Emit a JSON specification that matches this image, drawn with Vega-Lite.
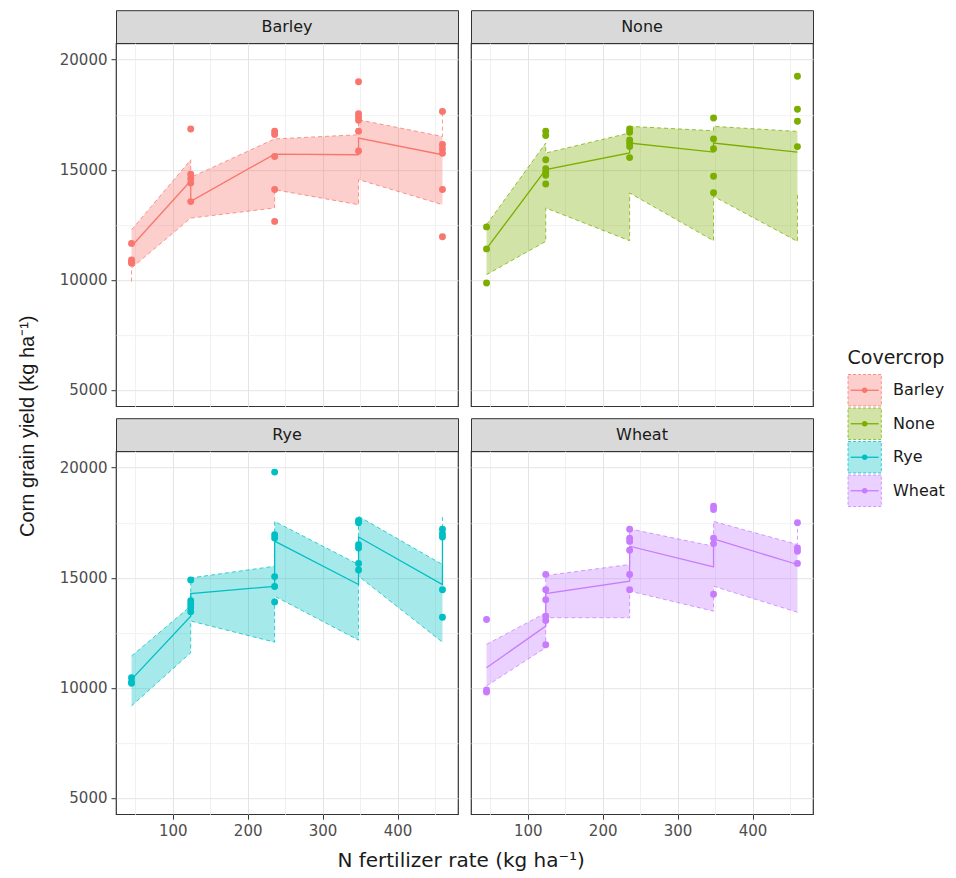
{
  "$schema": "https://vega.github.io/schema/vega-lite/v6.json",
  "background": "white",
  "padding": {"left": 17, "top": 9, "right": 4, "bottom": 4},
  "config": {
    "font": "DejaVu Sans",
    "legend": {"disable": true}
  },
  "datasets": {
    "fit": [
      {"Covercrop": "Barley", "N": 45, "lo": 9920, "hi": 12270, "pred": 11520},
      {"Covercrop": "Barley", "N": 45, "lo": 10530, "hi": 12270, "pred": 11520},
      {"Covercrop": "Barley", "N": 124, "lo": 12800, "hi": 15450, "pred": 14500},
      {"Covercrop": "Barley", "N": 124, "lo": 12800, "hi": 14650, "pred": 13560},
      {"Covercrop": "Barley", "N": 236, "lo": 13260, "hi": 16400, "pred": 15710},
      {"Covercrop": "Barley", "N": 236, "lo": 14090, "hi": 16400, "pred": 15710},
      {"Covercrop": "Barley", "N": 348, "lo": 13410, "hi": 16590, "pred": 15680},
      {"Covercrop": "Barley", "N": 348, "lo": 14550, "hi": 17270, "pred": 16440},
      {"Covercrop": "Barley", "N": 460, "lo": 13410, "hi": 16510, "pred": 15680},
      {"Covercrop": "Barley", "N": 460, "lo": 13410, "hi": 17650, "pred": 15680},
      {"Covercrop": "None", "N": 45, "lo": 10230, "hi": 12500, "pred": 11410},
      {"Covercrop": "None", "N": 124, "lo": 11740, "hi": 16210, "pred": 15000},
      {"Covercrop": "None", "N": 124, "lo": 13260, "hi": 15760, "pred": 15000},
      {"Covercrop": "None", "N": 236, "lo": 11770, "hi": 16670, "pred": 15760},
      {"Covercrop": "None", "N": 236, "lo": 13940, "hi": 16970, "pred": 16210},
      {"Covercrop": "None", "N": 348, "lo": 11770, "hi": 16770, "pred": 15800},
      {"Covercrop": "None", "N": 348, "lo": 13790, "hi": 16970, "pred": 16210},
      {"Covercrop": "None", "N": 460, "lo": 11740, "hi": 16740, "pred": 15800},
      {"Covercrop": "None", "N": 460, "lo": 13940, "hi": 16740, "pred": 15800},
      {"Covercrop": "Rye", "N": 45, "lo": 9170, "hi": 11440, "pred": 10380},
      {"Covercrop": "Rye", "N": 124, "lo": 11590, "hi": 13710, "pred": 13250},
      {"Covercrop": "Rye", "N": 124, "lo": 13030, "hi": 14990, "pred": 14280},
      {"Covercrop": "Rye", "N": 236, "lo": 12070, "hi": 15520, "pred": 14610},
      {"Covercrop": "Rye", "N": 236, "lo": 14160, "hi": 17560, "pred": 16660},
      {"Covercrop": "Rye", "N": 348, "lo": 12160, "hi": 15600, "pred": 14690},
      {"Covercrop": "Rye", "N": 348, "lo": 15070, "hi": 17790, "pred": 16850},
      {"Covercrop": "Rye", "N": 460, "lo": 12070, "hi": 15600, "pred": 14690},
      {"Covercrop": "Rye", "N": 460, "lo": 12070, "hi": 17870, "pred": 17190},
      {"Covercrop": "Wheat", "N": 45, "lo": 10080, "hi": 11970, "pred": 10910},
      {"Covercrop": "Wheat", "N": 124, "lo": 11820, "hi": 13400, "pred": 12800},
      {"Covercrop": "Wheat", "N": 124, "lo": 13180, "hi": 15100, "pred": 14280},
      {"Covercrop": "Wheat", "N": 236, "lo": 13180, "hi": 15600, "pred": 14840},
      {"Covercrop": "Wheat", "N": 236, "lo": 14390, "hi": 17220, "pred": 16430},
      {"Covercrop": "Wheat", "N": 348, "lo": 13480, "hi": 16430, "pred": 15490},
      {"Covercrop": "Wheat", "N": 348, "lo": 14610, "hi": 17560, "pred": 16760},
      {"Covercrop": "Wheat", "N": 460, "lo": 13430, "hi": 16510, "pred": 15600},
      {"Covercrop": "Wheat", "N": 460, "lo": 13430, "hi": 17520, "pred": 15600}
    ],
    "obs": [
      {"Covercrop": "Barley", "N": 45, "yield": 11650},
      {"Covercrop": "Barley", "N": 45, "yield": 10900},
      {"Covercrop": "Barley", "N": 45, "yield": 10800},
      {"Covercrop": "Barley", "N": 45, "yield": 10750},
      {"Covercrop": "Barley", "N": 124, "yield": 16850},
      {"Covercrop": "Barley", "N": 124, "yield": 14800},
      {"Covercrop": "Barley", "N": 124, "yield": 14600},
      {"Covercrop": "Barley", "N": 124, "yield": 14400},
      {"Covercrop": "Barley", "N": 124, "yield": 13550},
      {"Covercrop": "Barley", "N": 236, "yield": 16750},
      {"Covercrop": "Barley", "N": 236, "yield": 16600},
      {"Covercrop": "Barley", "N": 236, "yield": 15600},
      {"Covercrop": "Barley", "N": 236, "yield": 14100},
      {"Covercrop": "Barley", "N": 236, "yield": 12650},
      {"Covercrop": "Barley", "N": 348, "yield": 19000},
      {"Covercrop": "Barley", "N": 348, "yield": 17550},
      {"Covercrop": "Barley", "N": 348, "yield": 17400},
      {"Covercrop": "Barley", "N": 348, "yield": 17250},
      {"Covercrop": "Barley", "N": 348, "yield": 16750},
      {"Covercrop": "Barley", "N": 348, "yield": 15850},
      {"Covercrop": "Barley", "N": 460, "yield": 17650},
      {"Covercrop": "Barley", "N": 460, "yield": 16150},
      {"Covercrop": "Barley", "N": 460, "yield": 15950},
      {"Covercrop": "Barley", "N": 460, "yield": 15750},
      {"Covercrop": "Barley", "N": 460, "yield": 14100},
      {"Covercrop": "Barley", "N": 460, "yield": 11950},
      {"Covercrop": "None", "N": 45, "yield": 12400},
      {"Covercrop": "None", "N": 45, "yield": 11400},
      {"Covercrop": "None", "N": 45, "yield": 9850},
      {"Covercrop": "None", "N": 124, "yield": 16750},
      {"Covercrop": "None", "N": 124, "yield": 16550},
      {"Covercrop": "None", "N": 124, "yield": 15450},
      {"Covercrop": "None", "N": 124, "yield": 15050},
      {"Covercrop": "None", "N": 124, "yield": 14900},
      {"Covercrop": "None", "N": 124, "yield": 14750},
      {"Covercrop": "None", "N": 124, "yield": 14350},
      {"Covercrop": "None", "N": 236, "yield": 16850},
      {"Covercrop": "None", "N": 236, "yield": 16700},
      {"Covercrop": "None", "N": 236, "yield": 16350},
      {"Covercrop": "None", "N": 236, "yield": 16200},
      {"Covercrop": "None", "N": 236, "yield": 16050},
      {"Covercrop": "None", "N": 236, "yield": 15550},
      {"Covercrop": "None", "N": 348, "yield": 17350},
      {"Covercrop": "None", "N": 348, "yield": 16400},
      {"Covercrop": "None", "N": 348, "yield": 15950},
      {"Covercrop": "None", "N": 348, "yield": 14700},
      {"Covercrop": "None", "N": 348, "yield": 13950},
      {"Covercrop": "None", "N": 460, "yield": 19250},
      {"Covercrop": "None", "N": 460, "yield": 17750},
      {"Covercrop": "None", "N": 460, "yield": 17200},
      {"Covercrop": "None", "N": 460, "yield": 16050},
      {"Covercrop": "Rye", "N": 45, "yield": 10450},
      {"Covercrop": "Rye", "N": 45, "yield": 10250},
      {"Covercrop": "Rye", "N": 45, "yield": 10200},
      {"Covercrop": "Rye", "N": 124, "yield": 14900},
      {"Covercrop": "Rye", "N": 124, "yield": 13950},
      {"Covercrop": "Rye", "N": 124, "yield": 13800},
      {"Covercrop": "Rye", "N": 124, "yield": 13650},
      {"Covercrop": "Rye", "N": 124, "yield": 13450},
      {"Covercrop": "Rye", "N": 236, "yield": 19800},
      {"Covercrop": "Rye", "N": 236, "yield": 16950},
      {"Covercrop": "Rye", "N": 236, "yield": 16800},
      {"Covercrop": "Rye", "N": 236, "yield": 15050},
      {"Covercrop": "Rye", "N": 236, "yield": 14600},
      {"Covercrop": "Rye", "N": 236, "yield": 13900},
      {"Covercrop": "Rye", "N": 348, "yield": 17600},
      {"Covercrop": "Rye", "N": 348, "yield": 17500},
      {"Covercrop": "Rye", "N": 348, "yield": 16500},
      {"Covercrop": "Rye", "N": 348, "yield": 16350},
      {"Covercrop": "Rye", "N": 348, "yield": 15650},
      {"Covercrop": "Rye", "N": 348, "yield": 15350},
      {"Covercrop": "Rye", "N": 460, "yield": 17200},
      {"Covercrop": "Rye", "N": 460, "yield": 17000},
      {"Covercrop": "Rye", "N": 460, "yield": 16850},
      {"Covercrop": "Rye", "N": 460, "yield": 14450},
      {"Covercrop": "Rye", "N": 460, "yield": 13200},
      {"Covercrop": "Wheat", "N": 45, "yield": 13100},
      {"Covercrop": "Wheat", "N": 45, "yield": 9900},
      {"Covercrop": "Wheat", "N": 45, "yield": 9800},
      {"Covercrop": "Wheat", "N": 124, "yield": 15150},
      {"Covercrop": "Wheat", "N": 124, "yield": 14450},
      {"Covercrop": "Wheat", "N": 124, "yield": 14000},
      {"Covercrop": "Wheat", "N": 124, "yield": 13250},
      {"Covercrop": "Wheat", "N": 124, "yield": 13050},
      {"Covercrop": "Wheat", "N": 124, "yield": 11950},
      {"Covercrop": "Wheat", "N": 236, "yield": 17200},
      {"Covercrop": "Wheat", "N": 236, "yield": 16800},
      {"Covercrop": "Wheat", "N": 236, "yield": 16650},
      {"Covercrop": "Wheat", "N": 236, "yield": 16250},
      {"Covercrop": "Wheat", "N": 236, "yield": 15150},
      {"Covercrop": "Wheat", "N": 236, "yield": 14450},
      {"Covercrop": "Wheat", "N": 348, "yield": 18250},
      {"Covercrop": "Wheat", "N": 348, "yield": 18100},
      {"Covercrop": "Wheat", "N": 348, "yield": 16800},
      {"Covercrop": "Wheat", "N": 348, "yield": 16550},
      {"Covercrop": "Wheat", "N": 348, "yield": 14250},
      {"Covercrop": "Wheat", "N": 460, "yield": 17500},
      {"Covercrop": "Wheat", "N": 460, "yield": 16350},
      {"Covercrop": "Wheat", "N": 460, "yield": 16200},
      {"Covercrop": "Wheat", "N": 460, "yield": 15650}
    ],
    "crops": [
      {"Covercrop": "Barley"},
      {"Covercrop": "None"},
      {"Covercrop": "Rye"},
      {"Covercrop": "Wheat"}
    ]
  },
  "hconcat": [
    {
      "title": {"text": "Corn grain yield  (kg ha⁻¹)", "orient": "left", "anchor": "middle", "font": "Liberation Sans", "fontSize": 20, "fontWeight": "normal", "color": "#1a1a1a", "offset": 14, "dy": -7, "dx": 14},
      "hconcat": [
        {
          "title": {"text": "N fertilizer rate  (kg ha⁻¹)", "orient": "bottom", "anchor": "middle", "font": "DejaVu Sans", "fontSize": 20, "fontWeight": "normal", "color": "#1a1a1a", "offset": 12, "dx": 25},
          "spacing": 10,
          "vconcat": [
            {
              "spacing": 11,
              "hconcat": [
                {
                  "spacing": 0,
                  "bounds": "flush",
                  "vconcat": [
                    {"width": 342, "height": 33, "view": {"fill": "#d9d9d9", "stroke": "#333333", "strokeWidth": 1}, "data": {"values": [{"Covercrop": "Barley"}]}, "mark": {"type": "text", "fontSize": 16, "color": "#1a1a1a"}, "encoding": {"text": {"field": "Covercrop"}}},
                    {
                      "width": 342, "height": 363,
                      "view": {"stroke": "#333333", "strokeWidth": 1.2},
                      "encoding": {"x": {"field": "N", "type": "quantitative", "scale": {"domain": [24.25, 480.75], "nice": false, "zero": false}, "axis": {"values": [50, 100, 150, 200, 250, 300, 350, 400, 450], "labels": false, "ticks": false, "domain": false, "title": null, "gridColor": {"condition": {"test": "datum.value % 100 === 0", "value": "#e4e4e4"}, "value": "#f1f1f1"}, "gridWidth": 1}}},
                      "layer": [
                        {"data": {"name": "fit"}, "transform": [{"filter": {"field": "Covercrop", "equal": "Barley"}}], "mark": {"type": "area", "fillOpacity": 0.35}, "encoding": {"y": {"field": "hi", "type": "quantitative", "scale": {"domain": [4250, 20750], "nice": false, "zero": false}, "axis": {"values": [5000, 7500, 10000, 12500, 15000, 17500, 20000], "format": "d", "labelExpr": "datum.value % 5000 === 0 ? datum.label : ''", "title": null, "domain": false, "gridColor": {"condition": {"test": "datum.value % 5000 === 0", "value": "#e4e4e4"}, "value": "#f1f1f1"}, "tickOpacity": {"condition": {"test": "datum.value % 5000 === 0", "value": 1}, "value": 0}, "tickColor": "#333333", "tickSize": 5, "labelFontSize": 15, "labelColor": "#4d4d4d", "labelPadding": 4, "labelOverlap": false, "labelFlush": false}}, "y2": {"field": "lo"}, "fill": {"field": "Covercrop", "type": "nominal", "scale": {"domain": ["Barley", "None", "Rye", "Wheat"], "range": ["#F8766D", "#7CAE00", "#00BFC4", "#C77CFF"]}, "legend": null}}},
                        {"data": {"name": "fit"}, "transform": [{"filter": {"field": "Covercrop", "equal": "Barley"}}], "mark": {"type": "line", "strokeDash": [4, 3], "strokeWidth": 1, "opacity": 0.75}, "encoding": {"y": {"field": "hi", "type": "quantitative", "scale": {"domain": [4250, 20750], "nice": false, "zero": false}, "axis": {"values": [5000, 7500, 10000, 12500, 15000, 17500, 20000], "format": "d", "labelExpr": "datum.value % 5000 === 0 ? datum.label : ''", "title": null, "domain": false, "gridColor": {"condition": {"test": "datum.value % 5000 === 0", "value": "#e4e4e4"}, "value": "#f1f1f1"}, "tickOpacity": {"condition": {"test": "datum.value % 5000 === 0", "value": 1}, "value": 0}, "tickColor": "#333333", "tickSize": 5, "labelFontSize": 15, "labelColor": "#4d4d4d", "labelPadding": 4, "labelOverlap": false, "labelFlush": false}}, "color": {"field": "Covercrop", "type": "nominal", "scale": {"domain": ["Barley", "None", "Rye", "Wheat"], "range": ["#F8766D", "#7CAE00", "#00BFC4", "#C77CFF"]}, "legend": null}}},
                        {"data": {"name": "fit"}, "transform": [{"filter": {"field": "Covercrop", "equal": "Barley"}}], "mark": {"type": "line", "strokeDash": [4, 3], "strokeWidth": 1, "opacity": 0.75}, "encoding": {"y": {"field": "lo", "type": "quantitative", "scale": {"domain": [4250, 20750], "nice": false, "zero": false}, "axis": {"values": [5000, 7500, 10000, 12500, 15000, 17500, 20000], "format": "d", "labelExpr": "datum.value % 5000 === 0 ? datum.label : ''", "title": null, "domain": false, "gridColor": {"condition": {"test": "datum.value % 5000 === 0", "value": "#e4e4e4"}, "value": "#f1f1f1"}, "tickOpacity": {"condition": {"test": "datum.value % 5000 === 0", "value": 1}, "value": 0}, "tickColor": "#333333", "tickSize": 5, "labelFontSize": 15, "labelColor": "#4d4d4d", "labelPadding": 4, "labelOverlap": false, "labelFlush": false}}, "color": {"field": "Covercrop", "type": "nominal", "legend": null}}},
                        {"data": {"name": "fit"}, "transform": [{"filter": {"field": "Covercrop", "equal": "Barley"}}], "mark": {"type": "line", "strokeWidth": 1.3}, "encoding": {"y": {"field": "pred", "type": "quantitative", "scale": {"domain": [4250, 20750], "nice": false, "zero": false}, "axis": {"values": [5000, 7500, 10000, 12500, 15000, 17500, 20000], "format": "d", "labelExpr": "datum.value % 5000 === 0 ? datum.label : ''", "title": null, "domain": false, "gridColor": {"condition": {"test": "datum.value % 5000 === 0", "value": "#e4e4e4"}, "value": "#f1f1f1"}, "tickOpacity": {"condition": {"test": "datum.value % 5000 === 0", "value": 1}, "value": 0}, "tickColor": "#333333", "tickSize": 5, "labelFontSize": 15, "labelColor": "#4d4d4d", "labelPadding": 4, "labelOverlap": false, "labelFlush": false}}, "color": {"field": "Covercrop", "type": "nominal", "legend": null}}},
                        {"data": {"name": "obs"}, "transform": [{"filter": {"field": "Covercrop", "equal": "Barley"}}], "mark": {"type": "circle", "size": 48, "opacity": 1}, "encoding": {"y": {"field": "yield", "type": "quantitative", "scale": {"domain": [4250, 20750], "nice": false, "zero": false}, "axis": {"values": [5000, 7500, 10000, 12500, 15000, 17500, 20000], "format": "d", "labelExpr": "datum.value % 5000 === 0 ? datum.label : ''", "title": null, "domain": false, "gridColor": {"condition": {"test": "datum.value % 5000 === 0", "value": "#e4e4e4"}, "value": "#f1f1f1"}, "tickOpacity": {"condition": {"test": "datum.value % 5000 === 0", "value": 1}, "value": 0}, "tickColor": "#333333", "tickSize": 5, "labelFontSize": 15, "labelColor": "#4d4d4d", "labelPadding": 4, "labelOverlap": false, "labelFlush": false}}, "color": {"field": "Covercrop", "type": "nominal", "legend": null}}}
                      ]
                    }
                  ]
                },
                {
                  "spacing": 0,
                  "bounds": "flush",
                  "vconcat": [
                    {"width": 342, "height": 33, "view": {"fill": "#d9d9d9", "stroke": "#333333", "strokeWidth": 1}, "data": {"values": [{"Covercrop": "None"}]}, "mark": {"type": "text", "fontSize": 16, "color": "#1a1a1a"}, "encoding": {"text": {"field": "Covercrop"}}},
                    {
                      "width": 342, "height": 363,
                      "view": {"stroke": "#333333", "strokeWidth": 1.2},
                      "encoding": {"x": {"field": "N", "type": "quantitative", "scale": {"domain": [24.25, 480.75], "nice": false, "zero": false}, "axis": {"values": [50, 100, 150, 200, 250, 300, 350, 400, 450], "labels": false, "ticks": false, "domain": false, "title": null, "gridColor": {"condition": {"test": "datum.value % 100 === 0", "value": "#e4e4e4"}, "value": "#f1f1f1"}, "gridWidth": 1}}},
                      "layer": [
                        {"data": {"name": "fit"}, "transform": [{"filter": {"field": "Covercrop", "equal": "None"}}], "mark": {"type": "area", "fillOpacity": 0.35}, "encoding": {"y": {"field": "hi", "type": "quantitative", "scale": {"domain": [4250, 20750], "nice": false, "zero": false}, "axis": {"values": [5000, 7500, 10000, 12500, 15000, 17500, 20000], "labels": false, "ticks": false, "title": null, "domain": false, "gridColor": {"condition": {"test": "datum.value % 5000 === 0", "value": "#e4e4e4"}, "value": "#f1f1f1"}}}, "y2": {"field": "lo"}, "fill": {"field": "Covercrop", "type": "nominal", "scale": {"domain": ["Barley", "None", "Rye", "Wheat"], "range": ["#F8766D", "#7CAE00", "#00BFC4", "#C77CFF"]}, "legend": null}}},
                        {"data": {"name": "fit"}, "transform": [{"filter": {"field": "Covercrop", "equal": "None"}}], "mark": {"type": "line", "strokeDash": [4, 3], "strokeWidth": 1, "opacity": 0.75}, "encoding": {"y": {"field": "hi", "type": "quantitative", "scale": {"domain": [4250, 20750], "nice": false, "zero": false}, "axis": {"values": [5000, 7500, 10000, 12500, 15000, 17500, 20000], "labels": false, "ticks": false, "title": null, "domain": false, "gridColor": {"condition": {"test": "datum.value % 5000 === 0", "value": "#e4e4e4"}, "value": "#f1f1f1"}}}, "color": {"field": "Covercrop", "type": "nominal", "scale": {"domain": ["Barley", "None", "Rye", "Wheat"], "range": ["#F8766D", "#7CAE00", "#00BFC4", "#C77CFF"]}, "legend": null}}},
                        {"data": {"name": "fit"}, "transform": [{"filter": {"field": "Covercrop", "equal": "None"}}], "mark": {"type": "line", "strokeDash": [4, 3], "strokeWidth": 1, "opacity": 0.75}, "encoding": {"y": {"field": "lo", "type": "quantitative", "scale": {"domain": [4250, 20750], "nice": false, "zero": false}, "axis": {"values": [5000, 7500, 10000, 12500, 15000, 17500, 20000], "labels": false, "ticks": false, "title": null, "domain": false, "gridColor": {"condition": {"test": "datum.value % 5000 === 0", "value": "#e4e4e4"}, "value": "#f1f1f1"}}}, "color": {"field": "Covercrop", "type": "nominal", "legend": null}}},
                        {"data": {"name": "fit"}, "transform": [{"filter": {"field": "Covercrop", "equal": "None"}}], "mark": {"type": "line", "strokeWidth": 1.3}, "encoding": {"y": {"field": "pred", "type": "quantitative", "scale": {"domain": [4250, 20750], "nice": false, "zero": false}, "axis": {"values": [5000, 7500, 10000, 12500, 15000, 17500, 20000], "labels": false, "ticks": false, "title": null, "domain": false, "gridColor": {"condition": {"test": "datum.value % 5000 === 0", "value": "#e4e4e4"}, "value": "#f1f1f1"}}}, "color": {"field": "Covercrop", "type": "nominal", "legend": null}}},
                        {"data": {"name": "obs"}, "transform": [{"filter": {"field": "Covercrop", "equal": "None"}}], "mark": {"type": "circle", "size": 48, "opacity": 1}, "encoding": {"y": {"field": "yield", "type": "quantitative", "scale": {"domain": [4250, 20750], "nice": false, "zero": false}, "axis": {"values": [5000, 7500, 10000, 12500, 15000, 17500, 20000], "labels": false, "ticks": false, "title": null, "domain": false, "gridColor": {"condition": {"test": "datum.value % 5000 === 0", "value": "#e4e4e4"}, "value": "#f1f1f1"}}}, "color": {"field": "Covercrop", "type": "nominal", "legend": null}}}
                      ]
                    }
                  ]
                }
              ]
            },
            {
              "spacing": 11,
              "hconcat": [
                {
                  "spacing": 0,
                  "bounds": "flush",
                  "vconcat": [
                    {"width": 342, "height": 33, "view": {"fill": "#d9d9d9", "stroke": "#333333", "strokeWidth": 1}, "data": {"values": [{"Covercrop": "Rye"}]}, "mark": {"type": "text", "fontSize": 16, "color": "#1a1a1a"}, "encoding": {"text": {"field": "Covercrop"}}},
                    {
                      "width": 342, "height": 363,
                      "view": {"stroke": "#333333", "strokeWidth": 1.2},
                      "encoding": {"x": {"field": "N", "type": "quantitative", "scale": {"domain": [24.25, 480.75], "nice": false, "zero": false}, "axis": {"values": [50, 100, 150, 200, 250, 300, 350, 400, 450], "labelExpr": "datum.value % 100 === 0 ? datum.label : ''", "domain": false, "title": null, "gridColor": {"condition": {"test": "datum.value % 100 === 0", "value": "#e4e4e4"}, "value": "#f1f1f1"}, "gridWidth": 1, "tickOpacity": {"condition": {"test": "datum.value % 100 === 0", "value": 1}, "value": 0}, "tickColor": "#333333", "tickSize": 5, "labelFontSize": 15, "labelColor": "#4d4d4d", "labelPadding": 4, "labelOverlap": false, "labelFlush": false}}},
                      "layer": [
                        {"data": {"name": "fit"}, "transform": [{"filter": {"field": "Covercrop", "equal": "Rye"}}], "mark": {"type": "area", "fillOpacity": 0.35}, "encoding": {"y": {"field": "hi", "type": "quantitative", "scale": {"domain": [4250, 20750], "nice": false, "zero": false}, "axis": {"values": [5000, 7500, 10000, 12500, 15000, 17500, 20000], "format": "d", "labelExpr": "datum.value % 5000 === 0 ? datum.label : ''", "title": null, "domain": false, "gridColor": {"condition": {"test": "datum.value % 5000 === 0", "value": "#e4e4e4"}, "value": "#f1f1f1"}, "tickOpacity": {"condition": {"test": "datum.value % 5000 === 0", "value": 1}, "value": 0}, "tickColor": "#333333", "tickSize": 5, "labelFontSize": 15, "labelColor": "#4d4d4d", "labelPadding": 4, "labelOverlap": false, "labelFlush": false}}, "y2": {"field": "lo"}, "fill": {"field": "Covercrop", "type": "nominal", "scale": {"domain": ["Barley", "None", "Rye", "Wheat"], "range": ["#F8766D", "#7CAE00", "#00BFC4", "#C77CFF"]}, "legend": null}}},
                        {"data": {"name": "fit"}, "transform": [{"filter": {"field": "Covercrop", "equal": "Rye"}}], "mark": {"type": "line", "strokeDash": [4, 3], "strokeWidth": 1, "opacity": 0.75}, "encoding": {"y": {"field": "hi", "type": "quantitative", "scale": {"domain": [4250, 20750], "nice": false, "zero": false}, "axis": {"values": [5000, 7500, 10000, 12500, 15000, 17500, 20000], "format": "d", "labelExpr": "datum.value % 5000 === 0 ? datum.label : ''", "title": null, "domain": false, "gridColor": {"condition": {"test": "datum.value % 5000 === 0", "value": "#e4e4e4"}, "value": "#f1f1f1"}, "tickOpacity": {"condition": {"test": "datum.value % 5000 === 0", "value": 1}, "value": 0}, "tickColor": "#333333", "tickSize": 5, "labelFontSize": 15, "labelColor": "#4d4d4d", "labelPadding": 4, "labelOverlap": false, "labelFlush": false}}, "color": {"field": "Covercrop", "type": "nominal", "scale": {"domain": ["Barley", "None", "Rye", "Wheat"], "range": ["#F8766D", "#7CAE00", "#00BFC4", "#C77CFF"]}, "legend": null}}},
                        {"data": {"name": "fit"}, "transform": [{"filter": {"field": "Covercrop", "equal": "Rye"}}], "mark": {"type": "line", "strokeDash": [4, 3], "strokeWidth": 1, "opacity": 0.75}, "encoding": {"y": {"field": "lo", "type": "quantitative", "scale": {"domain": [4250, 20750], "nice": false, "zero": false}, "axis": {"values": [5000, 7500, 10000, 12500, 15000, 17500, 20000], "format": "d", "labelExpr": "datum.value % 5000 === 0 ? datum.label : ''", "title": null, "domain": false, "gridColor": {"condition": {"test": "datum.value % 5000 === 0", "value": "#e4e4e4"}, "value": "#f1f1f1"}, "tickOpacity": {"condition": {"test": "datum.value % 5000 === 0", "value": 1}, "value": 0}, "tickColor": "#333333", "tickSize": 5, "labelFontSize": 15, "labelColor": "#4d4d4d", "labelPadding": 4, "labelOverlap": false, "labelFlush": false}}, "color": {"field": "Covercrop", "type": "nominal", "legend": null}}},
                        {"data": {"name": "fit"}, "transform": [{"filter": {"field": "Covercrop", "equal": "Rye"}}], "mark": {"type": "line", "strokeWidth": 1.3}, "encoding": {"y": {"field": "pred", "type": "quantitative", "scale": {"domain": [4250, 20750], "nice": false, "zero": false}, "axis": {"values": [5000, 7500, 10000, 12500, 15000, 17500, 20000], "format": "d", "labelExpr": "datum.value % 5000 === 0 ? datum.label : ''", "title": null, "domain": false, "gridColor": {"condition": {"test": "datum.value % 5000 === 0", "value": "#e4e4e4"}, "value": "#f1f1f1"}, "tickOpacity": {"condition": {"test": "datum.value % 5000 === 0", "value": 1}, "value": 0}, "tickColor": "#333333", "tickSize": 5, "labelFontSize": 15, "labelColor": "#4d4d4d", "labelPadding": 4, "labelOverlap": false, "labelFlush": false}}, "color": {"field": "Covercrop", "type": "nominal", "legend": null}}},
                        {"data": {"name": "obs"}, "transform": [{"filter": {"field": "Covercrop", "equal": "Rye"}}], "mark": {"type": "circle", "size": 48, "opacity": 1}, "encoding": {"y": {"field": "yield", "type": "quantitative", "scale": {"domain": [4250, 20750], "nice": false, "zero": false}, "axis": {"values": [5000, 7500, 10000, 12500, 15000, 17500, 20000], "format": "d", "labelExpr": "datum.value % 5000 === 0 ? datum.label : ''", "title": null, "domain": false, "gridColor": {"condition": {"test": "datum.value % 5000 === 0", "value": "#e4e4e4"}, "value": "#f1f1f1"}, "tickOpacity": {"condition": {"test": "datum.value % 5000 === 0", "value": 1}, "value": 0}, "tickColor": "#333333", "tickSize": 5, "labelFontSize": 15, "labelColor": "#4d4d4d", "labelPadding": 4, "labelOverlap": false, "labelFlush": false}}, "color": {"field": "Covercrop", "type": "nominal", "legend": null}}}
                      ]
                    }
                  ]
                },
                {
                  "spacing": 0,
                  "bounds": "flush",
                  "vconcat": [
                    {"width": 342, "height": 33, "view": {"fill": "#d9d9d9", "stroke": "#333333", "strokeWidth": 1}, "data": {"values": [{"Covercrop": "Wheat"}]}, "mark": {"type": "text", "fontSize": 16, "color": "#1a1a1a"}, "encoding": {"text": {"field": "Covercrop"}}},
                    {
                      "width": 342, "height": 363,
                      "view": {"stroke": "#333333", "strokeWidth": 1.2},
                      "encoding": {"x": {"field": "N", "type": "quantitative", "scale": {"domain": [24.25, 480.75], "nice": false, "zero": false}, "axis": {"values": [50, 100, 150, 200, 250, 300, 350, 400, 450], "labelExpr": "datum.value % 100 === 0 ? datum.label : ''", "domain": false, "title": null, "gridColor": {"condition": {"test": "datum.value % 100 === 0", "value": "#e4e4e4"}, "value": "#f1f1f1"}, "gridWidth": 1, "tickOpacity": {"condition": {"test": "datum.value % 100 === 0", "value": 1}, "value": 0}, "tickColor": "#333333", "tickSize": 5, "labelFontSize": 15, "labelColor": "#4d4d4d", "labelPadding": 4, "labelOverlap": false, "labelFlush": false}}},
                      "layer": [
                        {"data": {"name": "fit"}, "transform": [{"filter": {"field": "Covercrop", "equal": "Wheat"}}], "mark": {"type": "area", "fillOpacity": 0.35}, "encoding": {"y": {"field": "hi", "type": "quantitative", "scale": {"domain": [4250, 20750], "nice": false, "zero": false}, "axis": {"values": [5000, 7500, 10000, 12500, 15000, 17500, 20000], "labels": false, "ticks": false, "title": null, "domain": false, "gridColor": {"condition": {"test": "datum.value % 5000 === 0", "value": "#e4e4e4"}, "value": "#f1f1f1"}}}, "y2": {"field": "lo"}, "fill": {"field": "Covercrop", "type": "nominal", "scale": {"domain": ["Barley", "None", "Rye", "Wheat"], "range": ["#F8766D", "#7CAE00", "#00BFC4", "#C77CFF"]}, "legend": null}}},
                        {"data": {"name": "fit"}, "transform": [{"filter": {"field": "Covercrop", "equal": "Wheat"}}], "mark": {"type": "line", "strokeDash": [4, 3], "strokeWidth": 1, "opacity": 0.75}, "encoding": {"y": {"field": "hi", "type": "quantitative", "scale": {"domain": [4250, 20750], "nice": false, "zero": false}, "axis": {"values": [5000, 7500, 10000, 12500, 15000, 17500, 20000], "labels": false, "ticks": false, "title": null, "domain": false, "gridColor": {"condition": {"test": "datum.value % 5000 === 0", "value": "#e4e4e4"}, "value": "#f1f1f1"}}}, "color": {"field": "Covercrop", "type": "nominal", "scale": {"domain": ["Barley", "None", "Rye", "Wheat"], "range": ["#F8766D", "#7CAE00", "#00BFC4", "#C77CFF"]}, "legend": null}}},
                        {"data": {"name": "fit"}, "transform": [{"filter": {"field": "Covercrop", "equal": "Wheat"}}], "mark": {"type": "line", "strokeDash": [4, 3], "strokeWidth": 1, "opacity": 0.75}, "encoding": {"y": {"field": "lo", "type": "quantitative", "scale": {"domain": [4250, 20750], "nice": false, "zero": false}, "axis": {"values": [5000, 7500, 10000, 12500, 15000, 17500, 20000], "labels": false, "ticks": false, "title": null, "domain": false, "gridColor": {"condition": {"test": "datum.value % 5000 === 0", "value": "#e4e4e4"}, "value": "#f1f1f1"}}}, "color": {"field": "Covercrop", "type": "nominal", "legend": null}}},
                        {"data": {"name": "fit"}, "transform": [{"filter": {"field": "Covercrop", "equal": "Wheat"}}], "mark": {"type": "line", "strokeWidth": 1.3}, "encoding": {"y": {"field": "pred", "type": "quantitative", "scale": {"domain": [4250, 20750], "nice": false, "zero": false}, "axis": {"values": [5000, 7500, 10000, 12500, 15000, 17500, 20000], "labels": false, "ticks": false, "title": null, "domain": false, "gridColor": {"condition": {"test": "datum.value % 5000 === 0", "value": "#e4e4e4"}, "value": "#f1f1f1"}}}, "color": {"field": "Covercrop", "type": "nominal", "legend": null}}},
                        {"data": {"name": "obs"}, "transform": [{"filter": {"field": "Covercrop", "equal": "Wheat"}}], "mark": {"type": "circle", "size": 48, "opacity": 1}, "encoding": {"y": {"field": "yield", "type": "quantitative", "scale": {"domain": [4250, 20750], "nice": false, "zero": false}, "axis": {"values": [5000, 7500, 10000, 12500, 15000, 17500, 20000], "labels": false, "ticks": false, "title": null, "domain": false, "gridColor": {"condition": {"test": "datum.value % 5000 === 0", "value": "#e4e4e4"}, "value": "#f1f1f1"}}}, "color": {"field": "Covercrop", "type": "nominal", "legend": null}}}
                      ]
                    }
                  ]
                }
              ]
            }
          ]
        }
      ]
    },
    {
      "width": 100,
      "height": 134,
      "view": {"stroke": null},
      "title": {"text": "Covercrop", "anchor": "start", "font": "DejaVu Sans", "fontSize": 19, "fontWeight": "normal", "color": "#1a1a1a", "offset": 6},
      "data": {"name": "crops"},
      "encoding": {
        "y": {"field": "Covercrop", "type": "nominal", "axis": null, "scale": {"type": "band", "paddingInner": 0.06, "paddingOuter": 0.03}}
      },
      "layer": [
        {"mark": {"type": "rect", "fillOpacity": 0.35, "strokeDash": [3, 2], "strokeWidth": 1, "strokeOpacity": 0.75}, "encoding": {"x": {"datum": 0, "type": "quantitative", "scale": {"domain": [0, 3], "nice": false, "zero": false}, "axis": null}, "x2": {"datum": 1}, "fill": {"field": "Covercrop", "type": "nominal", "scale": {"domain": ["Barley", "None", "Rye", "Wheat"], "range": ["#F8766D", "#7CAE00", "#00BFC4", "#C77CFF"]}, "legend": null}, "stroke": {"field": "Covercrop", "type": "nominal", "scale": {"domain": ["Barley", "None", "Rye", "Wheat"], "range": ["#F8766D", "#7CAE00", "#00BFC4", "#C77CFF"]}, "legend": null}}},
        {"mark": {"type": "rule", "strokeWidth": 1.3}, "encoding": {"x": {"datum": 0.08, "type": "quantitative"}, "x2": {"datum": 0.92}, "y": {"field": "Covercrop", "type": "nominal", "bandPosition": 0.5, "axis": null}, "color": {"field": "Covercrop", "type": "nominal", "scale": {"domain": ["Barley", "None", "Rye", "Wheat"], "range": ["#F8766D", "#7CAE00", "#00BFC4", "#C77CFF"]}, "legend": null}}},
        {"mark": {"type": "circle", "size": 30, "opacity": 1}, "encoding": {"x": {"datum": 0.5, "type": "quantitative"}, "y": {"field": "Covercrop", "type": "nominal", "bandPosition": 0.5, "axis": null}, "color": {"field": "Covercrop", "type": "nominal", "legend": null}}},
        {"mark": {"type": "text", "align": "left", "baseline": "middle", "fontSize": 16, "color": "#1a1a1a"}, "encoding": {"x": {"datum": 1.35, "type": "quantitative"}, "y": {"field": "Covercrop", "type": "nominal", "bandPosition": 0.5, "axis": null}, "text": {"field": "Covercrop"}}}
      ]
    }
  ],
  "spacing": 33,
  "center": true
}
